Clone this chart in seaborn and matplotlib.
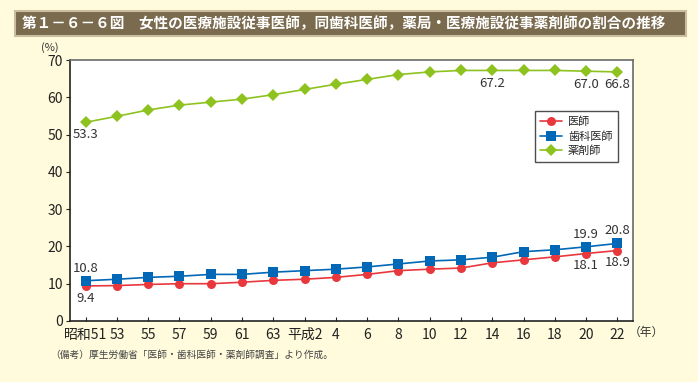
import numpy as np
import pandas as pd
import matplotlib
matplotlib.use("Agg")
import matplotlib.pyplot as plt
import matplotlib.patches as mpatches
import seaborn as sns

# data
years = ["昭和51", "53", "55", "57", "59", "61", "63", "平成2", "4",
         "6", "8", "10", "12", "14", "16", "18", "20", "22"]
ishi = [9.4, 9.5, 9.8, 10.0, 10.0, 10.4, 10.9, 11.2, 11.7,
        12.5, 13.5, 13.9, 14.2, 15.6, 16.4, 17.2, 18.1, 18.9]
shika = [10.8, 11.2, 11.7, 12.0, 12.5, 12.5, 13.1, 13.5, 13.9,
         14.5, 15.3, 16.1, 16.4, 17.1, 18.6, 19.1, 19.9, 20.8]
yakuzai = [53.3, 54.9, 56.6, 57.9, 58.7, 59.5, 60.7, 62.1, 63.5,
           64.8, 66.1, 66.8, 67.2, 67.2, 67.2, 67.2, 67.0, 66.8]
series_names = ["医師", "歯科医師", "薬剤師"]

df = pd.DataFrame({"x": np.arange(len(years)), "医師": ishi,
                   "歯科医師": shika, "薬剤師": yakuzai})
long = df.melt(id_vars="x", var_name="series", value_name="value")

sns.set_style("white")
plt.rcParams["font.family"] = ["Noto Sans CJK JP", "DejaVu Sans"]

bg = "#fffbdc"
fig = plt.figure(figsize=(6.98, 3.82), dpi=100, facecolor=bg)
ax = fig.add_axes([70 / 698, 1 - 321 / 382, 563 / 698, 261 / 382])
ax.set_facecolor("white")

palette = {"医師": "#e8383d", "歯科医師": "#0068b7", "薬剤師": "#8dc21f"}
markers = {"医師": "o", "歯科医師": "s", "薬剤師": "D"}
sns.lineplot(data=long, x="x", y="value", hue="series", style="series",
             hue_order=series_names, style_order=series_names,
             palette=palette, markers=markers, dashes=False,
             markersize=6.5, linewidth=1.2, markeredgewidth=0, ax=ax)

ax.set_xlim(-0.5, len(years) - 0.5)
ax.set_ylim(0, 70)
ax.set_xticks(df["x"])
ax.set_xticklabels(years)
ax.set_yticks(range(0, 71, 10))
ax.set_xlabel("")
ax.set_ylabel("")
ax.tick_params(axis="x", direction="in", length=3, labelsize=10, pad=5,
               colors="#222222")
ax.tick_params(axis="y", direction="out", length=3, labelsize=10, pad=2,
               colors="#222222")
ax.xaxis.set_ticks_position("bottom")
ax.yaxis.set_ticks_position("left")
for s in ["left", "bottom"]:
    ax.spines[s].set_color("#222222")
    ax.spines[s].set_linewidth(1.2)
for s in ["top", "right"]:
    ax.spines[s].set_color("#6b6b6b")
    ax.spines[s].set_linewidth(1.2)

# value labels
lab = dict(fontsize=9.5, color="#333333", ha="center")
ax.text(0, yakuzai[0] - 1.5, f"{yakuzai[0]:.1f}", va="top", **lab)
ax.text(13, yakuzai[13] - 1.8, f"{yakuzai[13]:.1f}", va="top", **lab)
ax.text(16, yakuzai[16] - 1.8, f"{yakuzai[16]:.1f}", va="top", **lab)
ax.text(17, yakuzai[17] - 1.5, f"{yakuzai[17]:.1f}", va="top", **lab)
ax.text(0, shika[0] + 1.6, f"{shika[0]:.1f}", va="bottom", **lab)
ax.text(0, ishi[0] - 1.6, f"{ishi[0]:.1f}", va="top", **lab)
ax.text(16, shika[16] + 1.6, f"{shika[16]:.1f}", va="bottom", **lab)
ax.text(17, shika[17] + 1.6, f"{shika[17]:.1f}", va="bottom", **lab)
ax.text(16, ishi[16] - 1.6, f"{ishi[16]:.1f}", va="top", **lab)
ax.text(17, ishi[17] - 1.6, f"{ishi[17]:.1f}", va="top", **lab)

leg = ax.legend(loc="upper right", bbox_to_anchor=(548 / 563, 210 / 261),
                fontsize=8, frameon=True, fancybox=False, handlelength=2.0,
                borderpad=0.5, labelspacing=0.35, borderaxespad=0,
                handletextpad=0.5)
leg.get_frame().set_edgecolor("#222222")
leg.get_frame().set_linewidth(1.0)

fig.text(50 / 698, 1 - 48 / 382, "(%)", fontsize=8, ha="center", va="center",
         color="#333333")
fig.text(646 / 698, 1 - 332 / 382, "（年）", fontsize=8.5, ha="center",
         va="center", color="#333333")
fig.text(50 / 698, 1 - 355 / 382,
         "（備考）厚生労働省「医師・歯科医師・薬剤師調査」より作成。",
         fontsize=7, ha="left", va="center", color="#444444")

# title bar
bar = mpatches.Rectangle((15 / 698, 1 - 36 / 382), 671 / 698, 25 / 382,
                         transform=fig.transFigure, facecolor="#7a6a4e",
                         edgecolor="#cbbd9f", linewidth=1.5)
fig.patches.append(bar)
fig.text(22 / 698, 1 - 23.5 / 382,
         "第１－６－６図　女性の医療施設従事医師，同歯科医師，薬局・医療施設従事薬剤師の割合の推移",
         fontsize=10.5, fontweight="bold", color="white", ha="left",
         va="center")

fig.savefig("out.png", dpi=100, facecolor=bg)
